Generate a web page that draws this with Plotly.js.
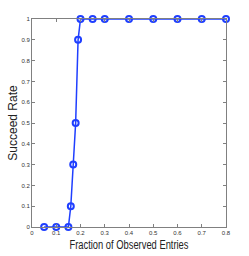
<!DOCTYPE html>
<html><head><meta charset="utf-8">
<script src="https://cdn.plot.ly/plotly-3.0.1.min.js"></script>
<style>html,body{margin:0;padding:0;background:#fff;}#chart{width:249px;height:256px;}</style>
</head><body><div id="chart"></div>
<script>
const fraction = [0.05, 0.1, 0.15, 0.16, 0.17, 0.18, 0.19, 0.2, 0.25, 0.3, 0.4, 0.5, 0.6, 0.7, 0.8];
const succeedRate = [0, 0, 0, 0.1, 0.3, 0.5, 0.9, 1, 1, 1, 1, 1, 1, 1, 1];
const xTicks = [0, 0.1, 0.2, 0.3, 0.4, 0.5, 0.6, 0.7, 0.8];
const yTicks = [0, 0.1, 0.2, 0.3, 0.4, 0.5, 0.6, 0.7, 0.8, 0.9, 1];

const trace = {
  x: fraction, y: succeedRate, type: 'scatter', mode: 'lines+markers',
  line: {color: '#1f3fff', width: 1.5},
  marker: {symbol: 'circle-open', size: 6, color: '#1f3fff', line: {width: 2, color: '#1f3fff'}},
  cliponaxis: false
};
const tickFont = {family: 'Liberation Sans, Arial, sans-serif', size: 6, color: '#333'};
const axisCommon = {
  showgrid: false, zeroline: false, showline: true, linecolor: '#808080', linewidth: 1,
  mirror: 'ticks', ticks: 'inside', ticklen: 3, tickcolor: '#808080',
  tickfont: tickFont
};
const layout = {
  width: 249, height: 256,
  margin: {l: 32, r: 23, t: 19, b: 29},
  paper_bgcolor: '#fff', plot_bgcolor: '#fff',
  showlegend: false,
  xaxis: Object.assign({}, axisCommon, {
    range: [0, 0.8], tickvals: xTicks, ticktext: xTicks.map(String),
    title: {text: 'Fraction of Observed Entries', font: {family: 'Liberation Sans, Arial, sans-serif', size: 12, color: '#222'}, standoff: 5}
  }),
  yaxis: Object.assign({}, axisCommon, {
    range: [0, 1], tickvals: yTicks, ticktext: yTicks.map(String),
    title: {text: 'Succeed Rate', font: {family: 'Liberation Sans, Arial, sans-serif', size: 12, color: '#222'}, standoff: 1}
  })
};
Plotly.newPlot('chart', [trace], layout, {staticPlot: true, displayModeBar: false}).then(function (gd) {
  const t = gd.querySelector('.xtitle');
  if (t) { t.setAttribute('textLength', '119'); t.setAttribute('lengthAdjust', 'spacingAndGlyphs'); }
});
</script></body></html>
